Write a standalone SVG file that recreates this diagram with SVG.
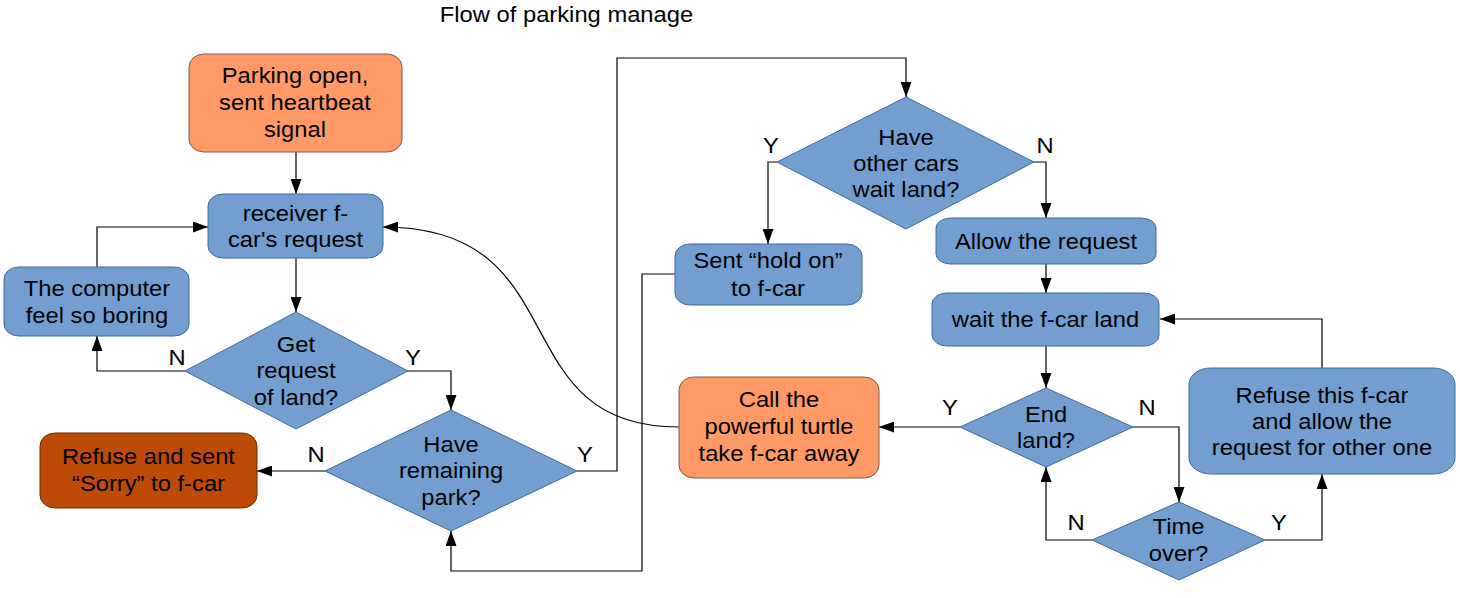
<svg xmlns="http://www.w3.org/2000/svg" width="1460" height="598" viewBox="0 0 1460 598">
<style>
.t{font-family:"Liberation Sans",Arial,sans-serif;font-size:22px;text-anchor:middle;fill:#000}
.blue{fill:#729fcf;stroke:#3d6a9e;stroke-width:1}
.orange{fill:#ff9966;stroke:#7a5c4a;stroke-width:1}
.dark{fill:#bd4a06;stroke:#6b3000;stroke-width:1}
.c{fill:none;stroke:#000;stroke-width:1.2;marker-end:url(#ah)}
</style>
<defs>
<marker id="ah" markerUnits="userSpaceOnUse" markerWidth="15" markerHeight="11" refX="15" refY="5.5" orient="auto">
<path d="M0,0 L15,5.5 L0,11 z" fill="#000"/>
</marker>
</defs>
<rect width="1460" height="598" fill="#fff"/>
<text class="t" transform="translate(566.5 0) scale(1.08 1)"><tspan x="0" y="22">Flow of parking manage</tspan></text>

<g id="connectors">
<path class="c" d="M296,152 V194"/>
<path class="c" d="M296,258 V312"/>
<path class="c" d="M185,371 H97 V336"/>
<path class="c" d="M97,267 V227 H208"/>
<path class="c" d="M408,371 H451 V410"/>
<path class="c" d="M325,471 H257"/>
<path class="c" d="M577,471 H617 V58 H906 V97"/>
<path class="c" d="M777,162 H768 V244"/>
<path class="c" d="M1034,162 H1046 V218"/>
<path class="c" d="M1046,264 V293"/>
<path class="c" d="M1046,346 V388"/>
<path class="c" d="M960,427 H879"/>
<path class="c" d="M1133,427 H1179 V502"/>
<path class="c" d="M1092,540 H1046 V467"/>
<path class="c" d="M1265,540 H1322 V474"/>
<path class="c" d="M1322,368 V319 H1160"/>
<path class="c" d="M679,427 C500,427 580,227 383,227"/>
<path class="c" d="M675,274 H642 V571 H451 V531"/>
<g class="t">
<text transform="translate(177 0) scale(1.08 1)" x="0" y="365">N</text>
<text transform="translate(413 0) scale(1.08 1)" x="0" y="365">Y</text>
<text transform="translate(316 0) scale(1.08 1)" x="0" y="462">N</text>
<text transform="translate(585 0) scale(1.08 1)" x="0" y="462">Y</text>
<text transform="translate(771 0) scale(1.08 1)" x="0" y="153">Y</text>
<text transform="translate(1045 0) scale(1.08 1)" x="0" y="153">N</text>
<text transform="translate(950 0) scale(1.08 1)" x="0" y="415">Y</text>
<text transform="translate(1147 0) scale(1.08 1)" x="0" y="415">N</text>
<text transform="translate(1076 0) scale(1.08 1)" x="0" y="530">N</text>
<text transform="translate(1279 0) scale(1.08 1)" x="0" y="530">Y</text>
</g>
</g>

<g id="parking-open">
<rect class="orange" x="189" y="54" width="213" height="98" rx="15" ry="13"/>
<text class="t" transform="translate(295 0) scale(1.08 1)"><tspan x="0" y="83">Parking open,</tspan><tspan x="0" y="110">sent heartbeat</tspan><tspan x="0" y="137">signal</tspan></text>
</g>
<g id="receiver">
<rect class="blue" x="208" y="194" width="175" height="64" rx="15" ry="12"/>
<text class="t" transform="translate(295.5 0) scale(1.08 1)"><tspan x="0" y="221">receiver f-</tspan><tspan x="0" y="247">car's request</tspan></text>
</g>
<g id="computer-boring">
<rect class="blue" x="4" y="267" width="185" height="69" rx="15" ry="12"/>
<text class="t" transform="translate(97 0) scale(1.08 1)"><tspan x="0" y="296">The computer</tspan><tspan x="0" y="323">feel so boring</tspan></text>
</g>
<g id="get-request">
<polygon class="blue" points="296,312 408,371 296,429 185,371"/>
<text class="t" transform="translate(296 0) scale(1.08 1)"><tspan x="0" y="352">Get</tspan><tspan x="0" y="378">request</tspan><tspan x="0" y="405">of land?</tspan></text>
</g>
<g id="have-remaining">
<polygon class="blue" points="451,410 577,471 451,531 325,471"/>
<text class="t" transform="translate(451 0) scale(1.08 1)"><tspan x="0" y="452">Have</tspan><tspan x="0" y="478">remaining</tspan><tspan x="0" y="505">park?</tspan></text>
</g>
<g id="refuse-sorry">
<rect class="dark" x="40" y="433" width="217" height="75" rx="15" ry="13"/>
<text class="t" transform="translate(148.5 0) scale(1.08 1)"><tspan x="0" y="464">Refuse and sent</tspan><tspan x="0" y="491">“Sorry” to f-car</tspan></text>
</g>
<g id="have-other-cars">
<polygon class="blue" points="906,97 1034,162 906,229 777,162"/>
<text class="t" transform="translate(906 0) scale(1.08 1)"><tspan x="0" y="145">Have</tspan><tspan x="0" y="171">other cars</tspan><tspan x="0" y="197">wait land?</tspan></text>
</g>
<g id="sent-hold-on">
<rect class="blue" x="675" y="244" width="187" height="61" rx="15" ry="12"/>
<text class="t" transform="translate(768 0) scale(1.08 1)"><tspan x="0" y="268">Sent “hold on”</tspan><tspan x="0" y="296">to f-car</tspan></text>
</g>
<g id="allow-request">
<rect class="blue" x="936" y="218" width="220" height="46" rx="15" ry="10"/>
<text class="t" transform="translate(1046 0) scale(1.08 1)"><tspan x="0" y="249">Allow the request</tspan></text>
</g>
<g id="wait-land">
<rect class="blue" x="932" y="293" width="227" height="53" rx="15" ry="11"/>
<text class="t" transform="translate(1045.5 0) scale(1.08 1)"><tspan x="0" y="327">wait the f-car land</tspan></text>
</g>
<g id="call-turtle">
<rect class="orange" x="679" y="377" width="200" height="101" rx="15" ry="13"/>
<text class="t" transform="translate(779 0) scale(1.08 1)"><tspan x="0" y="407">Call the</tspan><tspan x="0" y="434">powerful turtle</tspan><tspan x="0" y="461">take f-car away</tspan></text>
</g>
<g id="end-land">
<polygon class="blue" points="1046,388 1133,427 1046,467 960,427"/>
<text class="t" transform="translate(1046 0) scale(1.08 1)"><tspan x="0" y="422">End</tspan><tspan x="0" y="448">land?</tspan></text>
</g>
<g id="time-over">
<polygon class="blue" points="1179,502 1265,540 1179,580 1092,540"/>
<text class="t" transform="translate(1178.5 0) scale(1.08 1)"><tspan x="0" y="534">Time</tspan><tspan x="0" y="561">over?</tspan></text>
</g>
<g id="refuse-this">
<rect class="blue" x="1189" y="368" width="266" height="106" rx="22" ry="16"/>
<text class="t" transform="translate(1322 0) scale(1.08 1)"><tspan x="0" y="403">Refuse this f-car</tspan><tspan x="0" y="429">and allow the</tspan><tspan x="0" y="455">request for other one</tspan></text>
</g>
</svg>
